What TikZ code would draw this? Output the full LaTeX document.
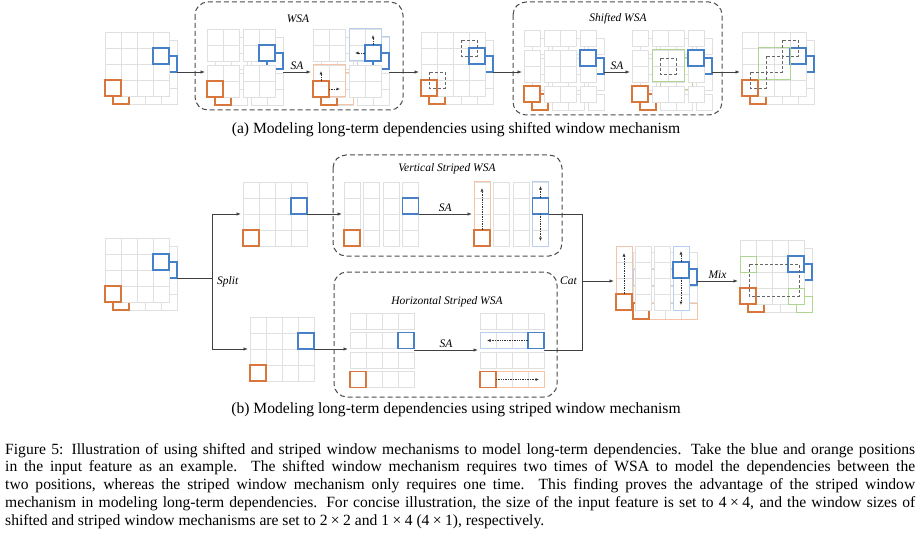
\documentclass[tikz,border=0pt]{standalone}
\usepackage{fontspec}
\setmainfont{Liberation Serif}
\usetikzlibrary{arrows.meta}

\definecolor{blueC}{RGB}{70,128,200}
\definecolor{orangeC}{RGB}{216,118,60}
\definecolor{blueL}{RGB}{184,208,238}
\definecolor{orangeL}{RGB}{244,196,164}
\definecolor{greenL}{RGB}{176,212,146}
\definecolor{cellC}{RGB}{224,224,224}

\newcommand{\cellgrid}[4]{%
  \foreach \ci in {1,...,#3}{\foreach \cj in {1,...,#4}{%
    \path[cellc] ({#1+(\ci-1)*16},{#2+(\cj-1)*16}) rectangle ++(16,16);}}}
\newcommand{\hlcell}[3]{\draw[#1] (#2,#3) rectangle ++(16,16);}
\newcommand{\wingrid}[2]{%
  \foreach \ox in {0,36}{\foreach \oy in {0,36}{\cellgrid{#1+\ox}{#2+\oy}{2}{2}}}}
\newcommand{\shiftgrid}[2]{%
  \foreach \ox/\nx in {0/1,20/2,56/1}{\foreach \oy/\ny in {0/1,20/2,56/1}{%
    \cellgrid{#1+\ox}{#2+\oy}{\nx}{\ny}}}}
\newcommand{\colstripes}[3]{\foreach \k in {0,...,3}{\cellgrid{#1+\k*#3}{#2}{1}{4}}}
\newcommand{\rowstripes}[3]{\foreach \k in {0,...,3}{\cellgrid{#1}{#2+\k*#3}{4}{1}}}
\newcommand{\featback}[2]{\cellgrid{#1+8}{#2+8}{4}{4}%
  \hlcell{bluec}{#1+56}{#2+24}\hlcell{orangec}{#1+8}{#2+56}}
\newcommand{\featfront}[2]{\cellgrid{#1}{#2}{4}{4}%
  \hlcell{bluec}{#1+48}{#2+16}\hlcell{orangec}{#1}{#2+48}}
\newcommand{\mx}[2]{#1\kern.22em×\kern.22em#2}

\begin{document}
\begin{tikzpicture}[x=1pt,y=-1pt,
  cellc/.style={draw=cellC,fill=white,line width=0.7pt},
  bluec/.style={draw=blueC,line width=1.4pt},
  orangec/.style={draw=orangeC,line width=1.4pt},
  lblue/.style={draw=blueL,line width=1pt},
  lorange/.style={draw=orangeL,line width=1pt},
  greenc/.style={draw=greenL,line width=1pt},
  shiftpos/.style={draw=black!60,densely dashed,line width=0.8pt},
  dashbox/.style={draw=black!70,dash pattern=on 5pt off 3pt,rounded corners=13pt,line width=1pt},
  flow/.style={draw=black!75,line width=0.8pt,-{Latex[length=4.5pt,width=3.5pt]}},
  joinline/.style={draw=black!75,line width=0.8pt},
  dotarr/.style={draw=black!80,densely dotted,line width=0.7pt,-{Latex[length=3.5pt,width=3pt]}},
  lbl/.style={font=\itshape\fontsize{11.5}{13}\selectfont,inner sep=1pt},
  capt/.style={font=\fontsize{15.6}{17.8}\selectfont,inner sep=0pt}]
\useasboundingbox (0,0) rectangle (920,540);

\draw[dashbox] (195,2) rectangle (403,110);
\node[lbl] (wsa) at (298,19) {WSA};
\draw[dashbox] (513,2) rectangle (722,115);
\node[lbl] (swsa) at (618,19) {Shifted WSA};

\featback{105}{32}
\featfront{105}{32}

\wingrid{215}{37}
\hlcell{bluec}{267}{53}\hlcell{orangec}{215}{89}
\wingrid{207}{29}
\hlcell{bluec}{259}{45}\hlcell{orangec}{207}{81}

\wingrid{321}{37}
\draw[lblue] (357,37) rectangle ++(32,32);
\draw[lorange] (321,73) rectangle ++(32,32);
\hlcell{bluec}{373}{53}\hlcell{orangec}{321}{89}
\wingrid{313}{29}
\draw[lblue] (349,29) rectangle ++(32,32);
\draw[lorange] (313,65) rectangle ++(32,32);
\hlcell{bluec}{365}{45}\hlcell{orangec}{313}{81}
\coordinate (bu) at (373,45); \coordinate (bu2) at (373,35);
\coordinate (bl) at (365,53); \coordinate (bl2) at (355,53);
\coordinate (ou) at (321,81); \coordinate (ou2) at (321,71);
\coordinate (or) at (329,89); \coordinate (or2) at (340,89);
\draw[dotarr] (bu) -- (bu2);
\draw[dotarr] (bl) -- (bl2);
\draw[dotarr] (ou) -- (ou2);
\draw[dotarr] (or) -- (or2);

\featback{421}{32}
\featfront{421}{32}
\draw[shiftpos] (461,40) rectangle ++(16,16);
\draw[shiftpos] (429,72) rectangle ++(16,16);

\shiftgrid{532}{38}
\hlcell{bluec}{588}{58}\hlcell{orangec}{532}{94}
\shiftgrid{524}{30}
\hlcell{bluec}{580}{50}\hlcell{orangec}{524}{86}

\shiftgrid{640}{38}
\draw[greenc] (660,58) rectangle ++(32,32);
\hlcell{bluec}{696}{58}\hlcell{orangec}{640}{94}
\shiftgrid{632}{30}
\draw[greenc] (652,50) rectangle ++(32,32);
\hlcell{bluec}{688}{50}\hlcell{orangec}{632}{86}
\draw[shiftpos] (660,58) rectangle ++(16,16);

\featback{742}{32}
\draw[greenc] (766,56) rectangle ++(32,32);
\featfront{742}{32}
\draw[greenc] (758,48) rectangle ++(32,32);
\draw[shiftpos] (782,40) rectangle ++(16,16);
\draw[shiftpos] (766,56) rectangle ++(16,16);
\draw[shiftpos] (750,72) rectangle ++(16,16);

\coordinate (a1o) at (177,72); \coordinate (w1i) at (205,72);
\coordinate (w1o) at (283,72); \coordinate (w2i) at (311,72);
\coordinate (w2o) at (389,72); \coordinate (a2i) at (419,72);
\coordinate (a2o) at (493,72); \coordinate (s1i) at (522,72);
\coordinate (s1o) at (604,72); \coordinate (s2i) at (630,72);
\coordinate (s2o) at (712,72); \coordinate (a3i) at (740,72);
\draw[flow] (a1o) -- (w1i);
\draw[flow] (w1o) -- node[lbl,above=1pt] (sa1) {SA} (w2i);
\draw[flow] (w2o) -- (a2i);
\draw[flow] (a2o) -- (s1i);
\draw[flow] (s1o) -- node[lbl,above=1pt] (sa2) {SA} (s2i);
\draw[flow] (s2o) -- (a3i);

\node[capt] (capa) at (456,130) {(a) Modeling long-term dependencies using shifted window mechanism};

\draw[dashbox] (333,155) rectangle (562,256);
\node[lbl] (vswsa) at (447,169) {Vertical Striped WSA};
\draw[dashbox] (334,272) rectangle (557,397);
\node[lbl] (hswsa) at (447,302) {Horizontal Striped WSA};

\featback{105}{238}
\featfront{105}{238}

\cellgrid{243}{182}{4}{4}
\hlcell{bluec}{291}{198}\hlcell{orangec}{243}{230}

\colstripes{344}{182}{19.5}
\hlcell{bluec}{402.5}{198}\hlcell{orangec}{344}{230}

\colstripes{474}{182}{19.5}
\draw[lorange] (474,182) rectangle ++(16,64);
\draw[lblue] (532.5,182) rectangle ++(16,64);
\hlcell{bluec}{532.5}{198}\hlcell{orangec}{474}{230}
\coordinate (vo) at (482,230); \coordinate (vo2) at (482,188);
\coordinate (vb) at (540.5,198); \coordinate (vb2) at (540.5,186);
\coordinate (vd) at (540.5,214); \coordinate (vd2) at (540.5,241);
\draw[dotarr] (vo) -- (vo2);
\draw[dotarr] (vb) -- (vb2);
\draw[dotarr] (vd) -- (vd2);

\cellgrid{250}{317}{4}{4}
\hlcell{bluec}{298}{333}\hlcell{orangec}{250}{365}

\rowstripes{350}{313}{19.5}
\hlcell{bluec}{398}{332.5}\hlcell{orangec}{350}{371.5}

\rowstripes{480}{313}{19.5}
\draw[lblue] (480,332.5) rectangle ++(64,16);
\draw[lorange] (480,371.5) rectangle ++(64,16);
\hlcell{bluec}{528}{332.5}\hlcell{orangec}{480}{371.5}
\coordinate (hb) at (528,340.5); \coordinate (hb2) at (487,340.5);
\coordinate (ho) at (496,379.5); \coordinate (ho2) at (539,379.5);
\draw[dotarr] (hb) -- (hb2);
\draw[dotarr] (ho) -- (ho2);

\rowstripes{633}{252}{17}
\draw[lblue] (633,269) rectangle ++(64,16);
\draw[lorange] (633,303) rectangle ++(64,16);
\hlcell{bluec}{681}{269}\hlcell{orangec}{633}{303}
\colstripes{616}{246}{19}
\draw[lorange] (616,246) rectangle ++(16,64);
\draw[lblue] (673,246) rectangle ++(16,64);
\hlcell{bluec}{673}{262}\hlcell{orangec}{616}{294}
\coordinate (co) at (624,294); \coordinate (co2) at (624,253);
\coordinate (cb) at (681,262); \coordinate (cb2) at (681,251);
\coordinate (cd) at (681,278); \coordinate (cd2) at (681,305);
\draw[dotarr] (co) -- (co2);
\draw[dotarr] (cb) -- (cb2);
\draw[dotarr] (cd) -- (cd2);

\featback{740}{240}
\hlcell{greenc}{796}{296}
\featfront{740}{240}
\hlcell{greenc}{740}{256}\hlcell{greenc}{788}{288}
\draw[shiftpos] (749,264) rectangle (799,296);

\coordinate (bino) at (177,278); \coordinate (split) at (212,278);
\coordinate (u1i) at (241,214); \coordinate (h1i) at (248,349);
\coordinate (u1o) at (307,214); \coordinate (v1i) at (342,214);
\coordinate (v1o) at (418.5,214); \coordinate (v2i) at (472,214);
\coordinate (v2o) at (548.5,214);
\coordinate (h1o) at (314,349); \coordinate (hs1i) at (348,349);
\coordinate (hs1o) at (414,350); \coordinate (hs2i) at (478,350);
\coordinate (hs2o) at (544,350);
\coordinate (catj) at (582,281); \coordinate (ci) at (614,281);
\coordinate (cout) at (697,281); \coordinate (mi) at (738,281);
\draw[flow] (bino) -- (split) |- (u1i);
\draw[flow] (split) |- (h1i);
\node[lbl,anchor=west] (splitlbl) at (216,282) {Split};
\draw[flow] (u1o) -- (v1i);
\draw[flow] (v1o) -- node[lbl,above=1pt] (sa3) {SA} (v2i);
\draw[flow] (h1o) -- (hs1i);
\draw[flow] (hs1o) -- node[lbl,above=1pt] (sa4) {SA} (hs2i);
\draw[joinline] (v2o) -| (catj);
\draw[joinline] (hs2o) -| (catj);
\draw[flow] (catj) -- (ci);
\node[lbl,anchor=east] (catlbl) at (578,281) {Cat};
\draw[flow] (cout) -- node[lbl,above=1pt] (mixlbl) {Mix} (mi);

\node[capt] (capb) at (456,410) {(b) Modeling long-term dependencies using striped window mechanism};

\node[capt,anchor=north west,text width=910pt,align=justify] (figcap) at (5,443) {Figure 5: Illustration of using shifted and striped window mechanisms to model long-term dependencies. Take the blue and orange positions\linebreak
in the input feature as an example.  The shifted window mechanism requires two times of WSA to model the dependencies between the\linebreak
two positions, whereas the striped window mechanism only requires one time.  This finding proves the advantage of the striped window\linebreak
mechanism in modeling long-term dependencies. For concise illustration, the size of the input feature is set to \mx{4}{4}, and the window sizes of\linebreak
shifted and striped window mechanisms are set to \mx{2}{2} and \mx{1}{4} (\mx{4}{1}), respectively.};
\end{tikzpicture}
\end{document}
